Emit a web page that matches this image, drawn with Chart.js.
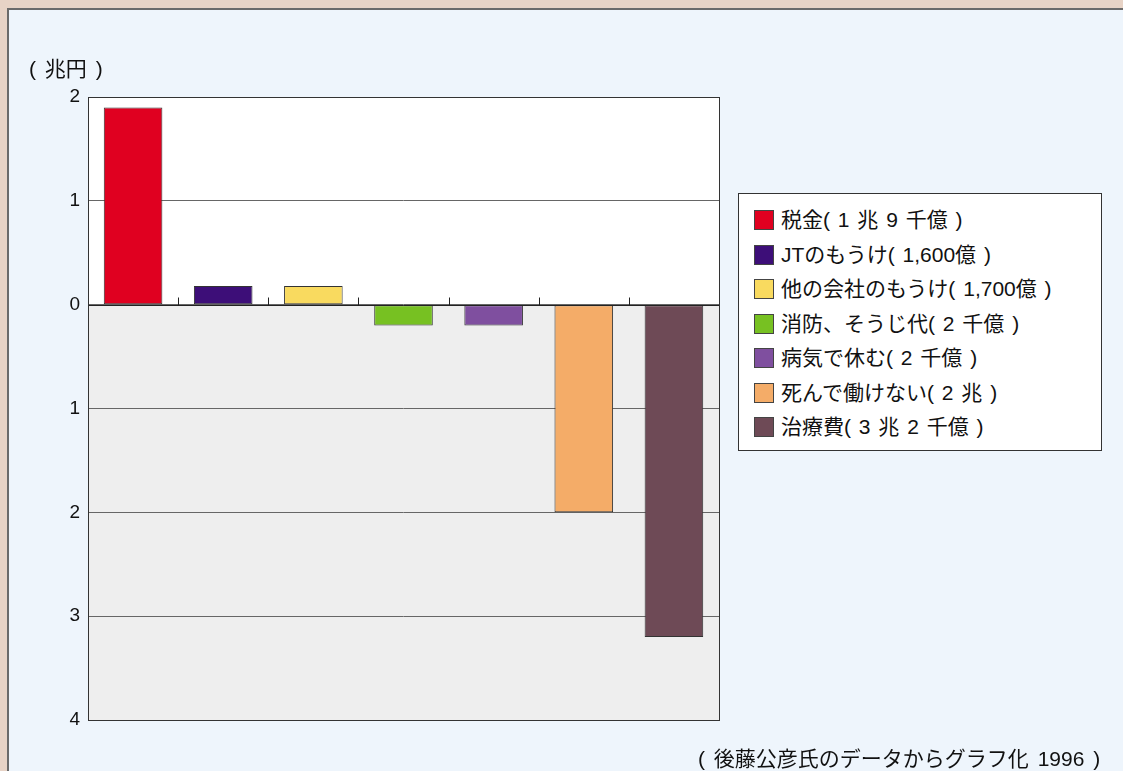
<!DOCTYPE html>
<html lang="ja">
<head>
<meta charset="UTF-8">
<script src="https://cdn.jsdelivr.net/npm/chart.js@4"></script>
<title>たばこの収支</title>
<style>
  html, body { margin: 0; padding: 0; }
  body { width: 1123px; height: 771px; background: #e7d3c6; overflow: hidden; position: relative;
         font-family: "Liberation Sans", "Noto Sans CJK JP", sans-serif; }
  #panel { position: absolute; left: 7px; top: 8px; width: 1130px; height: 780px;
           background: #eef5fc; border: 2px solid #6a6a6a; }
  #wrap { position: absolute; left: 0; top: 0; width: 1123px; height: 771px; }
  #unit { position: absolute; left: 29px; top: 52px; font-size: 21px; color: #111; word-spacing: 3px; white-space: nowrap; }
  #legend { position: absolute; left: 738px; top: 193px; width: 362px; height: 256px;
            background: #fff; border: 1px solid #333; }
  #legend div { position: absolute; left: 15px; font-size: 21px; color: #111; white-space: nowrap;
                line-height: 22px; word-spacing: 2px; }
  #legend span { display: inline-block; width: 18px; height: 18px; border: 1px solid #444;
                 vertical-align: -3px; margin-right: 7px; }
  #source { position: absolute; left: 698px; top: 742px; font-size: 21px; color: #111; white-space: nowrap; word-spacing: 3px; }
</style>
</head>
<body>
<div id="panel"></div>
<div id="wrap"><canvas id="grafico"></canvas></div>
<div id="unit">( 兆円 )</div>
<div id="legend"></div>
<div id="source">( 後藤公彦氏のデータからグラフ化 1996 )</div>

<script>
// dati (兆円): positivi = entrate, negativi = costi
var categorie = ['税金', 'JTのもうけ', '他の会社のもうけ', '消防、そうじ代', '病気で休む', '死んで働けない', '治療費'];
var etichette = ['税金( 1 兆 9 千億 )', 'JTのもうけ( 1,600億 )', '他の会社のもうけ( 1,700億 )',
                 '消防、そうじ代( 2 千億 )', '病気で休む( 2 千億 )', '死んで働けない( 2 兆 )', '治療費( 3 兆 2 千億 )'];
var valori = [1.9, 0.18, 0.18, -0.2, -0.2, -2.0, -3.2];
var colori = ['#e00020', '#3d0e78', '#f9da5f', '#77c122', '#7f4f9f', '#f4ac68', '#6e4a56'];
var tickY = [2, 1, 0, -1, -2, -3, -4];

// legenda in HTML
var leg = document.getElementById('legend');
etichette.forEach(function(t, i) {
  var d = document.createElement('div');
  d.style.top = (15 + i * 34.5) + 'px';
  d.innerHTML = '<span style="background:' + colori[i] + '"></span>' + t;
  leg.appendChild(d);
});

// sfondo area: bianco sopra lo zero, grigio sotto; bordo e tacche sulla linea zero
var sfondo = {
  id: 'sfondo',
  beforeDraw: function(chart) {
    var a = chart.chartArea, y = chart.scales.y, ctx = chart.ctx;
    var z = y.getPixelForValue(0);
    ctx.save();
    ctx.fillStyle = '#ffffff';
    ctx.fillRect(a.left, a.top, a.right - a.left, z - a.top);
    ctx.fillStyle = '#eeeeee';
    ctx.fillRect(a.left, z, a.right - a.left, a.bottom - z);
    ctx.restore();
  },
  afterDraw: function(chart) {
    var a = chart.chartArea, x = chart.scales.x, y = chart.scales.y, ctx = chart.ctx;
    var z = Math.round(y.getPixelForValue(0)) + 0.5;
    ctx.save();
    ctx.strokeStyle = '#222';
    ctx.lineWidth = 1;
    ctx.beginPath();
    ctx.moveTo(a.left, z); ctx.lineTo(a.right, z);
    for (var i = 0; i < categorie.length - 1; i++) {
      var bx = Math.round((x.getPixelForValue(i) + x.getPixelForValue(i + 1)) / 2) + 0.5;
      ctx.moveTo(bx, z - 8); ctx.lineTo(bx, z);
    }
    ctx.stroke();
    ctx.strokeStyle = '#333';
    ctx.strokeRect(Math.round(a.left) + 0.5, Math.round(a.top) + 0.5, Math.round(a.right - a.left), Math.round(a.bottom - a.top));
    ctx.restore();
  }
};

var config = {
  type: 'bar',
  data: {
    labels: categorie,
    datasets: [{
      data: valori,
      backgroundColor: colori,
      borderColor: '#333',
      borderWidth: 1,
      borderSkipped: false,
      barPercentage: 0.65,
      categoryPercentage: 1
    }]
  },
  options: {
    responsive: false,
    animation: false,
    layout: { padding: { left: 28, right: 404, top: 97, bottom: 51 } },
    plugins: { legend: { display: false }, tooltip: { enabled: false } },
    scales: {
      x: { display: false },
      y: {
        min: -4, max: 2,
        afterBuildTicks: function(s) { s.ticks = tickY.map(function(v) { return { value: v }; }); },
        afterFit: function(s) { s.width = 60; },
        border: { display: false },
        grid: { color: '#666', drawTicks: false },
        ticks: {
          padding: 8,
          color: '#111',
          font: { family: '"Liberation Sans", Arial, sans-serif', size: 19 },
          callback: function(v) { return Math.abs(v); }
        }
      }
    }
  },
  plugins: [sfondo]
};

var canvas = document.getElementById('grafico');
canvas.width = 1123; canvas.height = 771;
new Chart(canvas, config);
</script>
</body>
</html>
